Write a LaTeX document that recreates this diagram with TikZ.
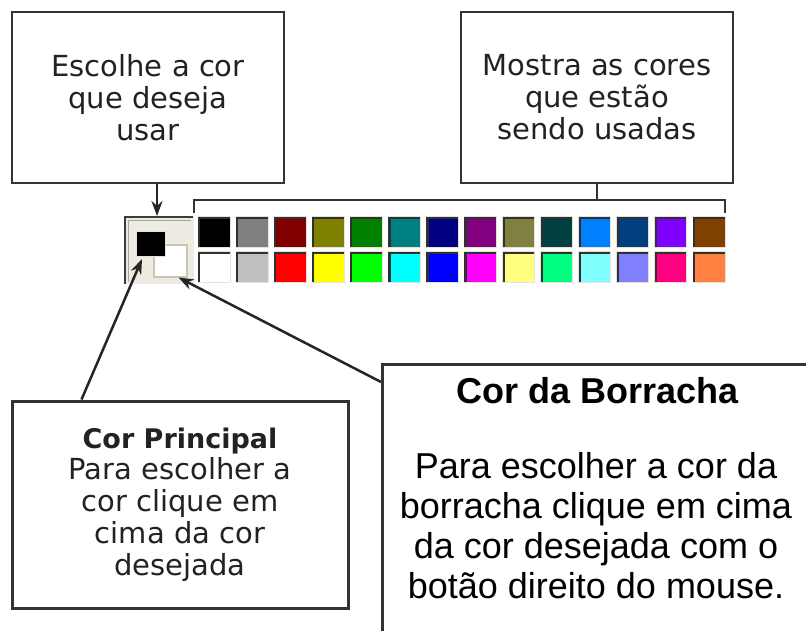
\documentclass[tikz,border=0pt]{standalone}
\usepackage{fontspec}
\setmainfont{DejaVu Sans}
\newfontfamily\arialf{Liberation Sans}
\usetikzlibrary{arrows.meta}
\definecolor{boxline}{HTML}{333333}
\definecolor{txt}{HTML}{222222}
\definecolor{arrowc}{HTML}{252525}
\definecolor{selbg}{HTML}{EEECE2}
\definecolor{seldark}{HTML}{3C3C3C}
\definecolor{selgray}{HTML}{A8A69C}
\definecolor{bgline}{HTML}{C9C5B5}
\definecolor{swline}{HTML}{303030}
\definecolor{swlight}{HTML}{E6E3D6}
\begin{document}
\begin{tikzpicture}[x=1pt,y=-1pt,
  box/.style={draw=boxline, line width=2.5pt, fill=white, inner sep=0pt, align=center, text=txt, font=\fontsize{29}{32}\selectfont},
  conn/.style={draw=boxline, line width=2.5pt},
  arr/.style={draw=arrowc, line width=2.5pt, -{Stealth[length=15pt,width=11pt]}},
  chip/.style={inner sep=0pt, anchor=north west}
]
\useasboundingbox (0,0) rectangle (806,631);
\clip (0,0) rectangle (806,631);
\fill[white] (0,0) rectangle (806,631);

% top boxes
\node[box, minimum width=272pt, minimum height=171pt] (escolhe) at (148,97.5) {Escolhe a cor\\que deseja\\usar};
\node[box, minimum width=272pt, minimum height=171pt] (mostra) at (597,97.5) {Mostra as cores\\que estão\\sendo usadas};

% bottom boxes
\node[box, line width=3pt, minimum width=336pt, minimum height=207pt] (principal) at (180,504.5)
  {{\fontsize{27}{30}\selectfont\bfseries Cor Principal}\\[-1pt]Para escolher a\\cor clique em\\cima da cor\\desejada};
\node[draw=boxline, line width=2.5pt, fill=white, chip, minimum width=460pt, minimum height=300pt] (borracha) at (381,363) {};
\node[anchor=base, inner sep=0pt, font={\arialf\fontsize{36}{40}\selectfont\bfseries}] (btitle) at (598,403) {Cor da Borracha};
\node[align=center, inner sep=0pt, font={\arialf\fontsize{36}{40}\selectfont}] (bbody) at (596,526)
  {Para escolher a cor da\\borracha clique em cima\\da cor desejada com o\\botão direito do mouse.};

% colour selector
\node[chip, fill=selbg, minimum width=70pt, minimum height=68pt] (sel) at (124,216) {};
\draw[seldark, line width=2.5pt] (125,284) -- (125,217) -- (193,217);
\draw[selgray, line width=1.2pt] (128.5,282) -- (128.5,220.5) -- (191,220.5);
\node[chip, fill=white, draw=bgline, line width=2pt, minimum width=33pt, minimum height=31pt] (bg) at (152.5,244.5) {};
\node[chip, fill=black, draw=swlight, line width=1pt, minimum width=29pt, minimum height=25pt] (fg) at (136,231) {};

% palette
\foreach \c [count=\i from 0] in {000000,808080,800000,808000,008000,008080,000080,800080,808040,004040,0080FF,004080,8000FF,804000} {
  \definecolor{sw}{HTML}{\c}
  \pgfmathsetmacro\xx{198+38.08*\i}
  \fill[swlight] (\xx-0.5,216.5) rectangle ++(33,31.5);
  \fill[sw] (\xx,217) rectangle ++(31.5,30);
  \draw[swline, line width=2.2pt] (\xx+1,247) -- (\xx+1,218) -- (\xx+31.5,218);
}
\foreach \c [count=\i from 0] in {FFFFFF,C0C0C0,FF0000,FFFF00,00FF00,00FFFF,0000FF,FF00FF,FFFF80,00FF80,80FFFF,8080FF,FF0080,FF8040} {
  \definecolor{sw}{HTML}{\c}
  \pgfmathsetmacro\xx{198+38.08*\i}
  \fill[swlight] (\xx-0.5,251.5) rectangle ++(33,31.5);
  \fill[sw] (\xx,252) rectangle ++(31.5,30);
  \draw[swline, line width=2.2pt] (\xx+1,282) -- (\xx+1,253) -- (\xx+31.5,253);
}

% bracket
\coordinate (brL) at (194,213);
\coordinate (brR) at (725,213);
\coordinate (brT) at (597,200);
\draw[conn] (mostra.south) -- (brT);
\draw[conn] (brL) |- (brT) -| (brR);

% arrows
\coordinate (e1) at ([xshift=9pt]escolhe.south);
\draw[arr] (e1) -- (e1 |- sel.north);
\coordinate (p1) at ([xshift=71pt]principal.north west);
\draw[arr] (p1) -- ([xshift=6pt,yshift=-2pt]fg.south west);
\coordinate (b1) at ([yshift=-19pt]borracha.north west);
\draw[arr] (b1) -- ([xshift=-9pt]bg.south east);
\end{tikzpicture}
\end{document}
